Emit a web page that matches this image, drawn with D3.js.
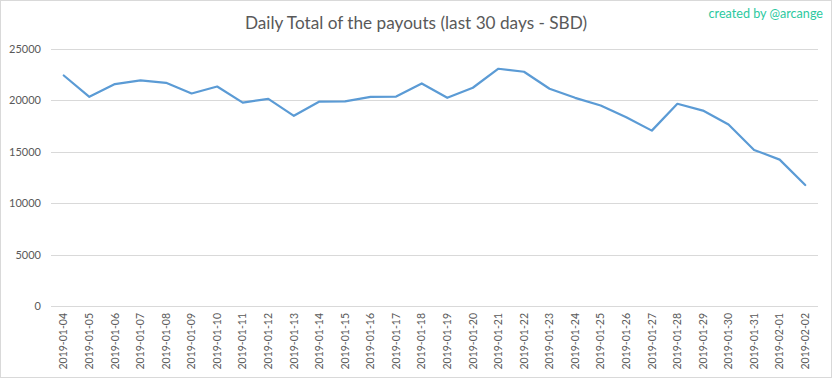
<!DOCTYPE html>
<html>
<head>
<meta charset="utf-8">
<script src="https://cdn.jsdelivr.net/npm/d3@7"></script>
<style>
  body { margin: 0; background: #fff; }
  svg { display: block; }
</style>
</head>
<body>
<div id="chart"></div>
<script>
// Data
dates = ['2019-01-04', '2019-01-05', '2019-01-06', '2019-01-07', '2019-01-08', '2019-01-09',
    '2019-01-10', '2019-01-11', '2019-01-12', '2019-01-13', '2019-01-14', '2019-01-15',
    '2019-01-16', '2019-01-17', '2019-01-18', '2019-01-19', '2019-01-20', '2019-01-21',
    '2019-01-22', '2019-01-23', '2019-01-24', '2019-01-25', '2019-01-26', '2019-01-27',
    '2019-01-28', '2019-01-29', '2019-01-30', '2019-01-31', '2019-02-01', '2019-02-02'];
payouts = [22420, 20350, 21590, 21940, 21710, 20670,
    21350, 19790, 20150, 18500, 19890, 19900,
    20350, 20370, 21650, 20250, 21230, 23080,
    22790, 21130, 20250, 19500, 18370, 17060,
    19670, 19010, 17650, 15180, 14240, 11770];
yTicks = [0, 5000, 10000, 15000, 20000, 25000];

width = 833;
height = 379;
margin = ({top: 49, right: 15, bottom: 73, left: 51});

const svg = d3.select("#chart").append("svg")
    .attr("width", width)
    .attr("height", height)
    .attr("font-family", "Lato, 'Open Sans', sans-serif");

// chart border
svg.append("rect")
    .attr("x", 0.5).attr("y", 0.5)
    .attr("width", width - 2).attr("height", height - 2)
    .attr("fill", "#fff")
    .attr("stroke", "#d9d9d9");

const x = d3.scaleBand()
    .domain(dates)
    .range([margin.left, width - margin.right]);

const y = d3.scaleLinear()
    .domain([0, 25000])
    .range([height - margin.bottom, margin.top]);

// gridlines
svg.append("g")
    .selectAll("line")
    .data(yTicks)
    .join("line")
    .attr("x1", margin.left)
    .attr("x2", width - margin.right)
    .attr("y1", d => Math.round(y(d)) + 0.5)
    .attr("y2", d => Math.round(y(d)) + 0.5)
    .attr("stroke", "#d9d9d9");

// y axis labels
const yAxis = g => g
    .attr("transform", `translate(${margin.left - 10},0)`)
    .call(d3.axisLeft(y).tickValues(yTicks).tickFormat(d3.format("d")).tickSize(0).tickPadding(0))
    .call(g => g.select(".domain").remove())
    .call(g => g.selectAll("text")
        .attr("fill", "#595959")
        .attr("font-size", 11)
        .attr("font-family", "Lato, 'Open Sans', sans-serif"));
svg.append("g").call(yAxis);

// x axis labels, rotated
const xAxis = g => g
    .attr("transform", `translate(0,${height - margin.bottom})`)
    .call(d3.axisBottom(x).tickSize(0).tickPadding(0))
    .call(g => g.select(".domain").remove())
    .call(g => g.selectAll("text")
        .attr("fill", "#595959")
        .attr("font-size", 10.5)
        .attr("font-family", "Lato, 'Open Sans', sans-serif")
        .attr("text-anchor", "end")
        .attr("transform", "rotate(-90)")
        .attr("x", -7)
        .attr("y", 0)
        .attr("dy", "0.35em"));
svg.append("g").call(xAxis);

// line
const line = d3.line()
    .x((d, i) => x(dates[i]) + x.bandwidth() / 2)
    .y(d => y(d));

svg.append("path")
    .datum(payouts)
    .attr("fill", "none")
    .attr("stroke", "#5b9bd5")
    .attr("stroke-width", 2.2)
    .attr("stroke-linejoin", "round")
    .attr("stroke-linecap", "round")
    .attr("d", line);

// title
svg.append("text")
    .attr("x", 416)
    .attr("y", 29)
    .attr("text-anchor", "middle")
    .attr("font-size", 17.2)
    .attr("fill", "#595959")
    .text("Daily Total of the payouts (last 30 days - SBD)");

svg.append("text")
    .attr("x", 823)
    .attr("y", 18)
    .attr("text-anchor", "end")
    .attr("font-size", 12.6)
    .attr("fill", "#2cc9a0")
    .text("created by @arcange");
</script>
</body>
</html>
